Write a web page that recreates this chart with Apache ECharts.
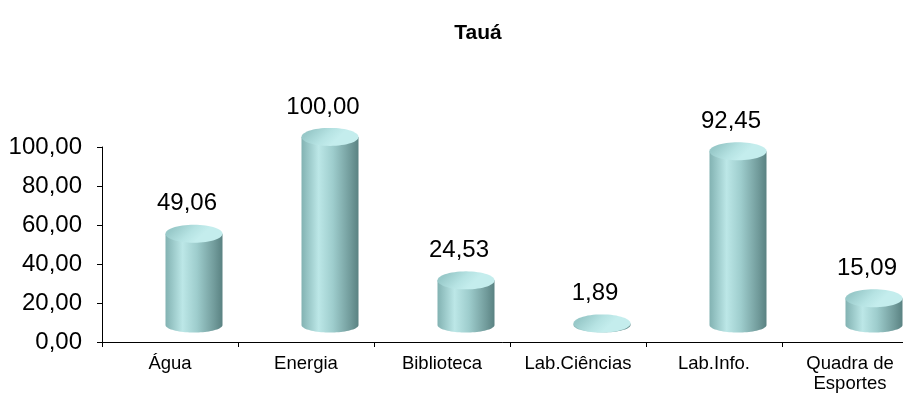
<!DOCTYPE html>
<html>
<head>
<meta charset="utf-8">
<script src="https://cdn.jsdelivr.net/npm/echarts@6/dist/echarts.min.js"></script>
<style>
  html, body { margin: 0; padding: 0; background: #fff; }
  #chart { width: 903px; height: 396px; }
</style>
</head>
<body>
<div id="chart"></div>
<script>
// Categories and percentages shown on the chart
const categories = ['Água', 'Energia', 'Biblioteca', 'Lab.Ciências', 'Lab.Info.', 'Quadra de\nEsportes'];
const values = [49.06, 100.00, 24.53, 1.89, 92.45, 15.09];
const yTicks = { min: 0, max: 100, interval: 20 };
const titleText = 'Tauá';

const FONT = '"Liberation Sans", Arial, sans-serif';
const fmt = v => v.toFixed(2).replace('.', ',');

// Cylinder geometry (3D look: shifted right/up from the category slot)
const DX = 24;      // depth shift to the right
const RX = 28.5;    // cylinder radius (horizontal)
const RY_TOP = 9;   // vertical radius of the lid
const RY_BOT = 7.5; // vertical radius of the base curve
const BASE_UP = 17; // floor raised above the axis line
const TOP_UP = 15;
const SCALE = 0.975;

function ellipsePoints(cx, cy, rx, ry, a0, a1, n) {
  const pts = [];
  for (let k = 0; k <= n; k++) {
    const a = a0 + (a1 - a0) * k / n;
    pts.push([cx + rx * Math.cos(a), cy + ry * Math.sin(a)]);
  }
  return pts;
}

function renderCylinder(params, api) {
  const i = api.value(0);
  const v = api.value(1);
  const zero = api.coord([i, 0]);
  const top = api.coord([i, v]);
  const cx = zero[0] + DX;
  const baseY = zero[1] - BASE_UP;
  const topY = Math.min(baseY, zero[1] - TOP_UP - (zero[1] - top[1]) * SCALE);
  const tall = baseY - topY > 0.5;

  // body: left side down, bottom half-ellipse, right side up
  const body = [[cx - RX, topY]]
    .concat(ellipsePoints(cx, baseY, RX, RY_BOT, Math.PI, 0, 40))
    .concat([[cx + RX, topY]]);

  const bodyFill = new echarts.graphic.LinearGradient(0, 0, 1, 0, [
    { offset: 0, color: '#82b2b2' },
    { offset: 0.3, color: '#bce7e7' },
    { offset: 0.55, color: '#9ecdcd' },
    { offset: 0.85, color: '#729c9c' },
    { offset: 1, color: '#5a8282' }
  ]);
  const topFill = new echarts.graphic.LinearGradient(0.2, 0, 0.5, 1, [
    { offset: 0, color: '#98c9c9' },
    { offset: 0.6, color: '#b6e3e3' },
    { offset: 1, color: '#c4eded' }
  ]);

  const children = [];
  if (tall) {
    children.push({ type: 'polygon', shape: { points: body }, style: { fill: bodyFill } });
  }
  const ry = tall ? RY_TOP : RY_BOT;
  children.push({
    type: 'polygon',
    shape: { points: ellipsePoints(cx, topY, RX, ry, 0, Math.PI * 2, 60) },
    style: { fill: tall ? topFill : '#8fc0c0' }
  });
  children.push({
    type: 'text',
    style: {
      x: cx - 7,
      y: topY - ry - 21,
      text: fmt(v),
      font: '24px ' + FONT,
      fill: '#000',
      align: 'center',
      verticalAlign: 'middle'
    }
  });
  return { type: 'group', children };
}

const chart = echarts.init(document.getElementById('chart'), null, { renderer: 'canvas' });
chart.setOption({
  animation: false,
  backgroundColor: '#fff',
  title: {
    text: titleText,
    left: 473,
    top: 18,
    textAlign: 'center',
    textStyle: { fontFamily: FONT, fontWeight: 'bold', fontSize: 21, color: '#000' }
  },
  // the plot runs past the right edge, so the last slot is partly cut off
  grid: { left: 102, top: 147, width: 816, bottom: 54, containLabel: false, outerBoundsMode: 'none' },
  xAxis: {
    type: 'category',
    data: categories,
    boundaryGap: true,
    axisLine: { show: true, lineStyle: { color: '#000', width: 1 } },
    axisTick: { show: true, length: 5, lineStyle: { color: '#000' } },
    axisLabel: {
      fontFamily: FONT, fontSize: 18.5, color: '#000', margin: 12,
      lineHeight: 20, interval: 0
    },
    splitLine: { show: false }
  },
  yAxis: {
    type: 'value',
    min: yTicks.min,
    max: yTicks.max,
    interval: yTicks.interval,
    axisLine: { show: true, lineStyle: { color: '#000', width: 1 } },
    axisTick: { show: true, length: 5, lineStyle: { color: '#000' } },
    axisLabel: { fontFamily: FONT, fontSize: 24, color: '#000', margin: 20, formatter: fmt },
    splitLine: { show: false }
  },
  series: [{
    type: 'custom',
    renderItem: renderCylinder,
    data: values.map((v, i) => [i, v]),
    clip: false
  }]
});
</script>
</body>
</html>
